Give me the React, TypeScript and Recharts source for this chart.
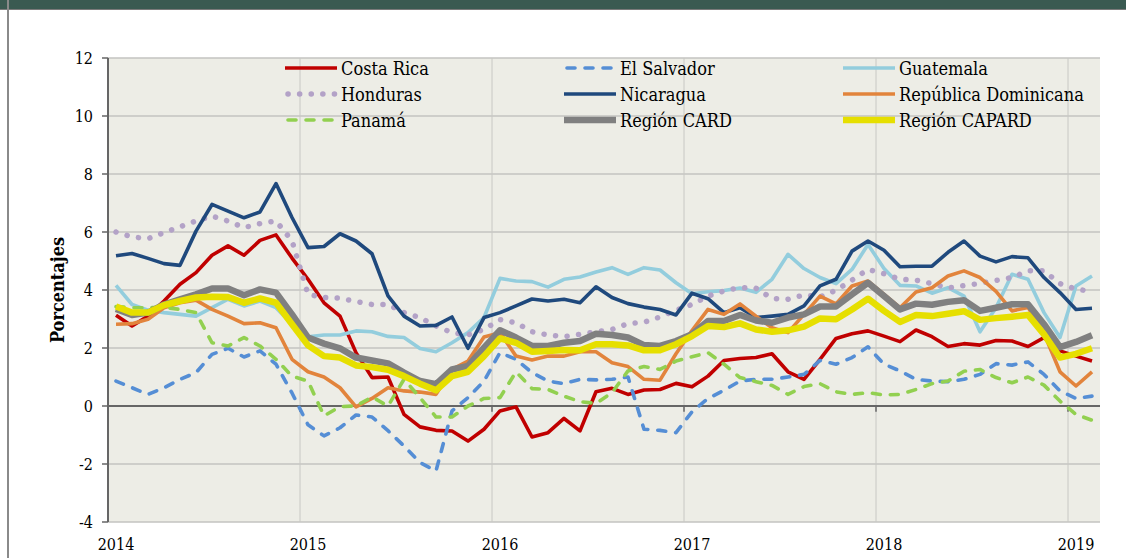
import { LineChart, Line, XAxis, YAxis, CartesianGrid, ReferenceLine, Legend } from 'recharts';

const FONT = "'DejaVu Serif Condensed', 'Liberation Serif', serif";

const years = ['2014', '2015', '2016', '2017', '2018', '2019'];
const yearStart = [0, 12, 24, 36, 48, 60];
const yearBreaks = [11.5, 23.5, 35.5, 47.5, 59.5];
const yTicks = [-4, -2, 0, 2, 4, 6, 8, 10, 12];

// monthly values, Jan 2014 - Feb 2019
const costaRica = [3.13, 2.76, 3.1, 3.62, 4.2, 4.6, 5.2, 5.52, 5.2, 5.71, 5.9, 5.1, 4.37, 3.56, 3.1, 1.84, 0.98, 1.0, -0.29, -0.72, -0.84, -0.86, -1.21, -0.8, -0.17, -0.03, -1.07, -0.92, -0.43, -0.86, 0.49, 0.61, 0.4, 0.55, 0.57, 0.78, 0.66, 1.03, 1.57, 1.64, 1.67, 1.8, 1.18, 0.92, 1.61, 2.33, 2.49, 2.59, 2.41, 2.22, 2.62, 2.39, 2.05, 2.15, 2.1, 2.26, 2.24, 2.05, 2.36, 1.9, 1.72, 1.55];
const elSalvador = [0.86, 0.63, 0.4, 0.63, 0.92, 1.15, 1.78, 1.99, 1.69, 1.9, 1.44, 0.45, -0.65, -1.03, -0.75, -0.31, -0.38, -0.85, -1.38, -1.95, -2.24, -0.17, 0.29, 0.86, 1.84, 1.61, 1.15, 0.86, 0.77, 0.92, 0.9, 0.92, 1.0, -0.8, -0.84, -0.92, -0.2, 0.26, 0.54, 0.86, 0.92, 0.92, 1.0, 1.09, 1.57, 1.44, 1.67, 2.04, 1.44, 1.21, 0.92, 0.86, 0.84, 0.92, 1.09, 1.46, 1.41, 1.52, 1.09, 0.52, 0.26, 0.34];
const guatemala = [4.16, 3.5, 3.3, 3.22, 3.16, 3.1, 3.39, 3.68, 3.45, 3.62, 3.39, 2.82, 2.39, 2.45, 2.45, 2.59, 2.56, 2.4, 2.36, 1.98, 1.87, 2.18, 2.53, 3.05, 4.4, 4.31, 4.29, 4.1, 4.37, 4.45, 4.62, 4.77, 4.54, 4.77, 4.69, 4.25, 3.87, 3.94, 3.98, 4.07, 3.92, 4.37, 5.23, 4.74, 4.43, 4.22, 4.71, 5.57, 4.74, 4.16, 4.14, 3.89, 4.08, 3.79, 2.56, 3.39, 4.54, 4.37, 3.22, 2.36, 4.14, 4.48];
const honduras = [6.0, 5.83, 5.77, 5.98, 6.18, 6.38, 6.55, 6.38, 6.15, 6.29, 6.38, 5.7, 3.85, 3.74, 3.72, 3.6, 3.5, 3.5, 3.22, 3.05, 2.76, 2.53, 2.45, 2.64, 2.98, 2.87, 2.56, 2.45, 2.39, 2.47, 2.56, 2.64, 2.84, 2.89, 3.07, 3.3, 3.5, 3.79, 3.97, 4.08, 4.06, 3.71, 3.68, 3.83, 3.76, 3.99, 4.34, 4.71, 4.56, 4.37, 4.34, 4.22, 4.07, 4.15, 4.23, 4.33, 4.43, 4.66, 4.66, 4.22, 4.03, 3.95];
const nicaragua = [5.18, 5.26, 5.09, 4.91, 4.85, 6.03, 6.95, 6.72, 6.49, 6.69, 7.67, 6.5, 5.46, 5.5, 5.94, 5.69, 5.25, 3.8, 3.1, 2.76, 2.78, 3.07, 1.99, 3.05, 3.22, 3.45, 3.69, 3.62, 3.68, 3.56, 4.11, 3.74, 3.53, 3.41, 3.33, 3.14, 3.89, 3.7, 3.22, 3.39, 3.05, 3.1, 3.16, 3.45, 4.14, 4.37, 5.34, 5.69, 5.37, 4.8, 4.82, 4.82, 5.3, 5.69, 5.17, 4.97, 5.15, 5.11, 4.43, 3.91, 3.33, 3.37];
const repDominicana = [2.82, 2.84, 2.99, 3.39, 3.56, 3.65, 3.33, 3.1, 2.84, 2.87, 2.7, 1.61, 1.18, 1.0, 0.63, -0.03, 0.26, 0.63, 0.52, 0.48, 0.4, 1.26, 1.55, 2.38, 2.53, 1.72, 1.59, 1.72, 1.72, 1.87, 1.87, 1.49, 1.36, 0.92, 0.89, 1.8, 2.6, 3.33, 3.16, 3.52, 3.1, 2.7, 2.53, 3.16, 3.79, 3.52, 4.14, 4.31, 3.85, 3.39, 3.93, 4.08, 4.48, 4.66, 4.43, 3.95, 3.28, 3.4, 2.5, 1.18, 0.69, 1.18];
const panama = [3.43, 3.39, 3.39, 3.4, 3.33, 3.22, 2.18, 2.07, 2.36, 2.07, 1.61, 1.03, 0.86, -0.34, -0.02, 0.0, 0.31, 0.0, 0.92, 0.29, -0.38, -0.38, 0.0, 0.26, 0.29, 1.18, 0.6, 0.57, 0.34, 0.15, 0.09, 0.46, 1.21, 1.36, 1.26, 1.55, 1.7, 1.84, 1.44, 0.98, 0.84, 0.71, 0.4, 0.67, 0.77, 0.49, 0.4, 0.46, 0.38, 0.4, 0.57, 0.77, 0.86, 1.2, 1.26, 0.98, 0.8, 1.0, 0.72, 0.17, -0.29, -0.49];
const regionCard = [3.35, 3.14, 3.22, 3.5, 3.68, 3.85, 4.05, 4.05, 3.82, 4.02, 3.91, 3.16, 2.36, 2.15, 1.99, 1.67, 1.57, 1.47, 1.15, 0.86, 0.75, 1.26, 1.38, 2.01, 2.61, 2.36, 2.07, 2.07, 2.18, 2.24, 2.49, 2.45, 2.36, 2.1, 2.07, 2.24, 2.47, 2.93, 2.93, 3.14, 2.95, 2.87, 3.05, 3.16, 3.43, 3.43, 3.85, 4.25, 3.79, 3.33, 3.53, 3.49, 3.59, 3.65, 3.28, 3.39, 3.51, 3.51, 2.82, 2.03, 2.21, 2.44];
const regionCapard = [3.43, 3.22, 3.22, 3.48, 3.62, 3.74, 3.77, 3.76, 3.56, 3.71, 3.56, 2.82, 2.09, 1.72, 1.67, 1.4, 1.34, 1.25, 1.03, 0.77, 0.54, 1.03, 1.18, 1.72, 2.33, 2.18, 1.87, 1.9, 1.93, 1.92, 2.13, 2.13, 2.09, 1.92, 1.92, 2.13, 2.41, 2.76, 2.72, 2.85, 2.64, 2.56, 2.61, 2.74, 3.02, 2.99, 3.33, 3.7, 3.28, 2.9, 3.14, 3.1, 3.18, 3.27, 2.97, 3.03, 3.08, 3.14, 2.47, 1.67, 1.8, 1.99];

type Serie = { key: string; name: string; values: number[]; color: string; width: number; dash?: string; cap?: 'round' | 'butt' };

const series: Serie[] = [
  { key: 'cr', name: 'Costa Rica', values: costaRica, color: '#c00000', width: 3.6 },
  { key: 'sv', name: 'El Salvador', values: elSalvador, color: '#558ed5', width: 3.6, dash: '8 10', cap: 'round' },
  { key: 'gt', name: 'Guatemala', values: guatemala, color: '#93cddd', width: 3.6 },
  { key: 'hn', name: 'Honduras', values: honduras, color: '#b3a2c7', width: 5.5, dash: '0.1 11.5', cap: 'round' },
  { key: 'ni', name: 'Nicaragua', values: nicaragua, color: '#1f497d', width: 3.6 },
  { key: 'rd', name: 'República Dominicana', values: repDominicana, color: '#e2843c', width: 3.6 },
  { key: 'pa', name: 'Panamá', values: panama, color: '#92d050', width: 3.6, dash: '8 10', cap: 'round' },
  { key: 'card', name: 'Región CARD', values: regionCard, color: '#808080', width: 6.5 },
  { key: 'capard', name: 'Región CAPARD', values: regionCapard, color: '#e6df00', width: 6.5 },
];

const data = costaRica.map((_, i) => {
  const row: Record<string, number> = { i };
  series.forEach((s) => { row[s.key] = s.values[i]; });
  return row;
});

const renderLegend = () => (
  <div style={{ display: 'grid', gridTemplateColumns: '279px 279px 279px' }}>
    {series.map((s) => (
      <div key={s.key} style={{ display: 'flex', alignItems: 'center', height: 26 }}>
        <svg width={55} height={12} style={{ flex: 'none' }}>
          <line x1={s.cap === 'round' ? 4 : 1} y1={6} x2={s.cap === 'round' ? 51 : 53} y2={6} stroke={s.color}
            strokeWidth={s.width} strokeDasharray={s.dash} strokeLinecap={s.cap ?? 'butt'} />
        </svg>
        <span style={{ fontFamily: FONT, fontSize: 18, color: '#000', marginLeft: 2, whiteSpace: 'nowrap' }}>{s.name}</span>
      </div>
    ))}
  </div>
);

export default function App() {
  return (
    <div style={{ position: 'absolute', left: 0, top: 0, width: 1126, height: 558, background: '#fff', overflow: 'hidden' }}>
      <div style={{ position: 'absolute', left: 0, top: 0, width: 1126, height: 9, background: '#3a5a51', borderBottom: '1.5px solid #7a7a7a' }} />
      <div style={{ position: 'absolute', left: 7, top: 0, width: 2, height: 558, background: '#8a8a8a' }} />
      <div style={{
        position: 'absolute', left: 57, top: 290, transform: 'translate(-50%, -50%) rotate(-90deg)',
        fontFamily: FONT, fontSize: 18, fontWeight: 'bold', color: '#000', whiteSpace: 'nowrap',
      }}>Porcentajes</div>
      <LineChart width={1126} height={558} data={data} margin={{ top: 58, right: 26, bottom: 6, left: 0 }}>
        <CartesianGrid vertical={false} fill="#edede6" stroke="#c3c3c0" strokeWidth={1.5} />
        {yearBreaks.map((b) => (
          <ReferenceLine key={b} x={b} stroke="#c8c8c4" strokeWidth={1} />
        ))}
        <ReferenceLine y={0} stroke="#666" strokeWidth={2} />
        {yearBreaks.map((b) => (
          <ReferenceLine key={'t' + b} segment={[{ x: b, y: 0 }, { x: b, y: -0.2 }]} stroke="#666" strokeWidth={1.5} />
        ))}
        <XAxis type="number" dataKey="i" domain={[-0.5, 61.5]} ticks={yearStart} allowDataOverflow
          tickFormatter={(v) => years[yearStart.indexOf(v)] ?? ''}
          axisLine={false} tickLine={false} tickSize={6} tickMargin={11} height={30}
          tick={{ fill: '#000', fontSize: 16, fontFamily: FONT }} />
        <YAxis type="number" domain={[-4, 12]} ticks={yTicks} width={108}
          axisLine={{ stroke: '#666', strokeWidth: 2 }} tickLine={{ stroke: '#666', strokeWidth: 1.5 }}
          tickSize={6} tickMargin={9} tick={{ fill: '#000', fontSize: 16, fontFamily: FONT }} />
        <Legend layout="horizontal" verticalAlign="middle" align="center" content={renderLegend}
          wrapperStyle={{ top: 55, left: 284, width: 840, height: 78 }} />
        {series.map((s) => (
          <Line key={s.key} type="linear" dataKey={s.key} name={s.name} stroke={s.color} strokeWidth={s.width}
            strokeDasharray={s.dash} strokeLinecap={s.cap ?? 'butt'} strokeLinejoin="round"
            dot={false} activeDot={false} isAnimationActive={false} />
        ))}
      </LineChart>
    </div>
  );
}
